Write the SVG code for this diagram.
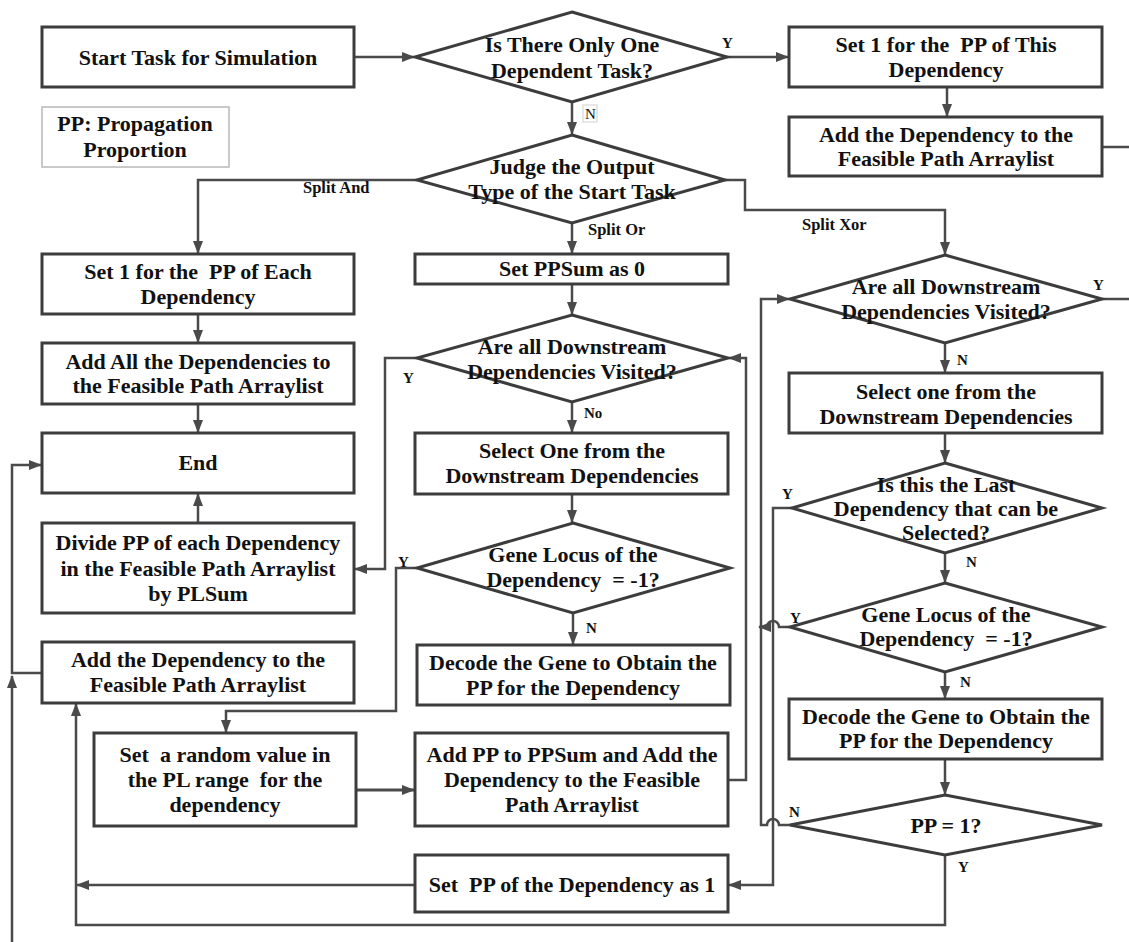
<svg xmlns="http://www.w3.org/2000/svg" width="1129" height="942" viewBox="0 0 1129 942">
<style>
.box{fill:#fff;stroke:#3c3c3c;stroke-width:3}
.legend{fill:#fff;stroke:#b8b8b8;stroke-width:1.5}
.dia{fill:#fff;stroke:#3c3c3c;stroke-width:3;stroke-linejoin:miter}
text{font-family:"Liberation Serif","Times New Roman",serif;font-weight:bold;fill:#111;white-space:pre}
.t{font-size:22px;text-anchor:middle}
.lbl{font-size:15px}
.split{font-size:16.5px}
.reg{font-weight:normal}
.conn path{fill:none;stroke:#4a4a4a;stroke-width:2.5}
.nbox{fill:#fff;stroke:#d0d0d0;stroke-width:1}
</style>
<defs>
<marker id="ah" markerWidth="13" markerHeight="10" refX="12" refY="5" orient="auto" markerUnits="userSpaceOnUse">
<path d="M0,0 L13,5 L0,10 z" fill="#4a4a4a"/>
</marker>
</defs>

<g id="connectors" class="conn">
<path d="M354,57 H414" marker-end="url(#ah)"/>
<path d="M727,57 H788" marker-end="url(#ah)"/>
<path d="M947,87 V116" marker-end="url(#ah)"/>
<path d="M572,102 V134" marker-end="url(#ah)"/>
<path d="M1102,147 H1129"/>
<path d="M417,180 H198 V253" marker-end="url(#ah)"/>
<path d="M572,223 V253" marker-end="url(#ah)"/>
<path d="M725,180 H745 V210 H945 V254" marker-end="url(#ah)"/>
<path d="M198,314 V342" marker-end="url(#ah)"/>
<path d="M198,404 V432" marker-end="url(#ah)"/>
<path d="M198,523 V494" marker-end="url(#ah)"/>
<path d="M572,284 V314" marker-end="url(#ah)"/>
<path d="M417,358 H385 V569 H355" marker-end="url(#ah)"/>
<path d="M572,402 V432" marker-end="url(#ah)"/>
<path d="M572,494 V522" marker-end="url(#ah)"/>
<path d="M417,568 H396 V711 H226 V732" marker-end="url(#ah)"/>
<path d="M573,613 V644" marker-end="url(#ah)"/>
<path d="M356,790 H414" marker-end="url(#ah)" style="stroke-width:3"/>
<path d="M728,780 H746 V358 H729" marker-end="url(#ah)"/>
<path d="M945,343 V372" marker-end="url(#ah)"/>
<path d="M1102,299 H1129"/>
<path d="M945,433 V462" marker-end="url(#ah)"/>
<path d="M945,553 V582" marker-end="url(#ah)"/>
<path d="M792,508 H773 V885 H729" marker-end="url(#ah)"/>
<path d="M790,627 H779 A6,6 0 0 0 767,627 H759" marker-end="url(#ah)"/>
<path d="M790,825 H779 A6,6 0 0 0 767,825 H761 V299 H789" marker-end="url(#ah)"/>
<path d="M945,672 V698" marker-end="url(#ah)"/>
<path d="M945,759 V794" marker-end="url(#ah)"/>
<path d="M945,855 V925 H76 V704" marker-end="url(#ah)"/>
<path d="M415,885 H77" marker-end="url(#ah)"/>
<path d="M42,673 H12 V465 H41" marker-end="url(#ah)"/>
<path d="M12,942 V676" marker-end="url(#ah)"/>
</g>

<g id="labels">
<text class="lbl" x="722" y="48">Y</text>
<rect class="nbox" x="583" y="105" width="14" height="17"/>
<text class="lbl reg" x="585" y="119">N</text>
<text class="lbl split" x="303" y="193">Split And</text>
<text class="lbl split" x="588" y="235">Split Or</text>
<text class="lbl split" x="802" y="230">Split Xor</text>
<text class="lbl" x="403" y="383">Y</text>
<text class="lbl" x="584" y="418">No</text>
<text class="lbl" x="398" y="567">Y</text>
<text class="lbl" x="586" y="633">N</text>
<text class="lbl" x="957" y="365">N</text>
<text class="lbl" x="1093" y="290">Y</text>
<text class="lbl" x="782" y="499">Y</text>
<text class="lbl" x="966" y="567">N</text>
<text class="lbl" x="790" y="623">Y</text>
<text class="lbl" x="960" y="687">N</text>
<text class="lbl" x="789" y="817">N</text>
<text class="lbl" x="958" y="872">Y</text>
</g>

<g id="n_start"><rect class="box" x="42" y="27" width="312" height="60"/><text class="t" x="198" y="65">Start Task for Simulation</text></g>
<g id="n_legend"><rect class="legend" x="42" y="107" width="187" height="60"/><text class="t" x="135" y="131">PP: Propagation</text><text class="t" x="135" y="157">Proportion</text></g>
<g id="d_one"><polygon class="dia" points="572,12 727,57 572,102 415,57"/><text class="t" x="572" y="52">Is There Only One</text><text class="t" x="572" y="78">Dependent Task?</text></g>
<g id="n_set1this"><rect class="box" x="789" y="27" width="313" height="60"/><text class="t" x="946" y="52">Set 1 for the  PP of This</text><text class="t" x="946" y="77">Dependency</text></g>
<g id="n_addright"><rect class="box" x="789" y="117" width="313" height="59"/><text class="t" x="946" y="142">Add the Dependency to the</text><text class="t" x="946" y="166">Feasible Path Arraylist</text></g>
<g id="d_judge"><polygon class="dia" points="572,135 725,180 572,223 417,180"/><text class="t" x="572" y="174">Judge the Output</text><text class="t" x="572" y="199">Type of the Start Task</text></g>
<g id="n_set1each"><rect class="box" x="42" y="254" width="312" height="60"/><text class="t" x="198" y="279">Set 1 for the  PP of Each</text><text class="t" x="198" y="304">Dependency</text></g>
<g id="n_addall"><rect class="box" x="42" y="343" width="312" height="61"/><text class="t" x="198" y="369">Add All the Dependencies to</text><text class="t" x="198" y="393">the Feasible Path Arraylist</text></g>
<g id="n_end"><rect class="box" x="42" y="433" width="312" height="60"/><text class="t" x="198" y="470">End</text></g>
<g id="n_divide"><rect class="box" x="42" y="523" width="312" height="90"/><text class="t" x="198" y="550">Divide PP of each Dependency</text><text class="t" x="198" y="576">in the Feasible Path Arraylist</text><text class="t" x="198" y="601">by PLSum</text></g>
<g id="n_addleft"><rect class="box" x="42" y="642" width="312" height="61"/><text class="t" x="198" y="667">Add the Dependency to the</text><text class="t" x="198" y="692">Feasible Path Arraylist</text></g>
<g id="n_random"><rect class="box" x="94" y="733" width="262" height="93"/><text class="t" x="225" y="762">Set  a random value in</text><text class="t" x="225" y="787">the PL range  for the</text><text class="t" x="225" y="812">dependency</text></g>
<g id="n_ppsum0"><rect class="box" x="415" y="254" width="313" height="30"/><text class="t" x="572" y="276">Set PPSum as 0</text></g>
<g id="d_visited_mid"><polygon class="dia" points="572,315 728,358 572,402 417,358"/><text class="t" x="572" y="354">Are all Downstream</text><text class="t" x="572" y="379">Dependencies Visited?</text></g>
<g id="n_selmid"><rect class="box" x="415" y="433" width="313" height="61"/><text class="t" x="572" y="458">Select One from the</text><text class="t" x="572" y="483">Downstream Dependencies</text></g>
<g id="d_gene_mid"><polygon class="dia" points="573,523 730,568 573,613 417,568"/><text class="t" x="573" y="562">Gene Locus of the</text><text class="t" x="573" y="587">Dependency  = -1?</text></g>
<g id="n_decodemid"><rect class="box" x="417" y="645" width="313" height="60"/><text class="t" x="573" y="670">Decode the Gene to Obtain the</text><text class="t" x="573" y="695">PP for the Dependency</text></g>
<g id="n_addpp"><rect class="box" x="415" y="733" width="313" height="93"/><text class="t" x="572" y="762">Add PP to PPSum and Add the</text><text class="t" x="572" y="787">Dependency to the Feasible</text><text class="t" x="572" y="812">Path Arraylist</text></g>
<g id="n_setpp1"><rect class="box" x="415" y="855" width="313" height="57"/><text class="t" x="572" y="892">Set  PP of the Dependency as 1</text></g>
<g id="d_visited_right"><polygon class="dia" points="945,255 1102,299 945,343 790,299"/><text class="t" x="946" y="294">Are all Downstream</text><text class="t" x="946" y="319">Dependencies Visited?</text></g>
<g id="n_selright"><rect class="box" x="789" y="373" width="313" height="60"/><text class="t" x="946" y="399">Select one from the</text><text class="t" x="946" y="424">Downstream Dependencies</text></g>
<g id="d_last"><polygon class="dia" points="945,463 1102,508 945,553 792,508"/><text class="t" x="946" y="492">Is this the Last</text><text class="t" x="946" y="516">Dependency that can be</text><text class="t" x="946" y="540">Selected?</text></g>
<g id="d_gene_right"><polygon class="dia" points="945,583 1102,627 945,672 790,627"/><text class="t" x="946" y="622">Gene Locus of the</text><text class="t" x="946" y="646">Dependency  = -1?</text></g>
<g id="n_decoderight"><rect class="box" x="789" y="699" width="313" height="60"/><text class="t" x="946" y="724">Decode the Gene to Obtain the</text><text class="t" x="946" y="748">PP for the Dependency</text></g>
<g id="d_pp1"><polygon class="dia" points="945,795 1102,825 945,855 790,825"/><text class="t" x="946" y="833">PP = 1?</text></g>
</svg>
